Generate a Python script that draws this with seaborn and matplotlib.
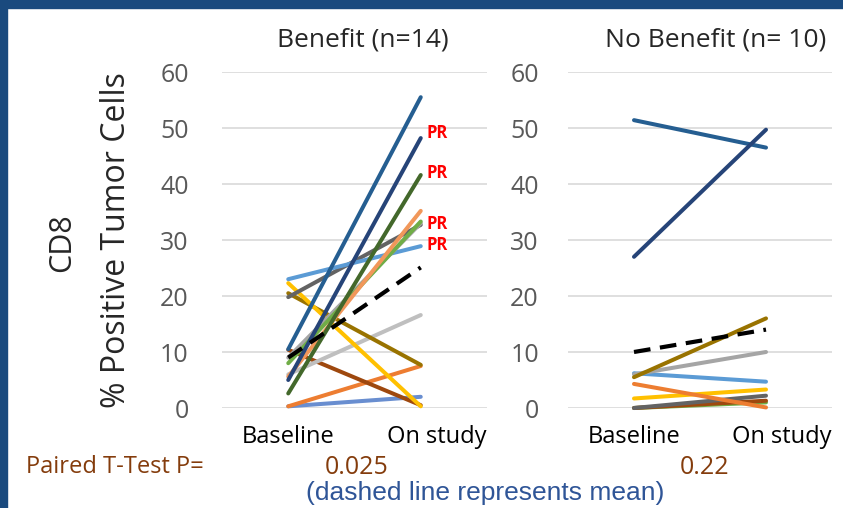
import matplotlib
matplotlib.use("Agg")
import matplotlib.pyplot as plt
import matplotlib.transforms as mtransforms
from matplotlib import font_manager
import seaborn as sns
import pandas as pd

# ---------------- data ----------------
timepoints = ["Baseline", "On study"]

benefit_colors = ["#698ED0", "#ED7D31", "#9E480E", "#BFBFBF", "#997300", "#FFC000",
                  "#636363", "#5B9BD5", "#A5A5A5", "#70AD47", "#F1975A", "#43682B",
                  "#264478", "#255E91"]
benefit_baseline = [0.3, 0.3, 10.4, 6.0, 20.5, 22.3, 19.8, 23.0, 9.0, 8.0, 5.6, 2.6, 5.0, 10.5]
benefit_onstudy = [2.0, 7.5, 0.5, 16.6, 7.7, 0.3, 32.7, 28.9, 33.0, 33.3, 35.2, 41.6, 48.2, 55.5]
benefit_mean = [9.0, 25.1]

nobenefit_colors = ["#70AD47", "#9E480E", "#636363", "#FFC000", "#ED7D31", "#5B9BD5",
                    "#A5A5A5", "#997300", "#255E91", "#264478"]
nobenefit_baseline = [0.0, 0.0, 0.0, 1.7, 4.3, 6.2, 6.0, 5.5, 51.4, 27.0]
nobenefit_onstudy = [1.0, 1.3, 2.2, 3.3, 0.1, 4.7, 10.0, 16.0, 46.5, 49.7]
nobenefit_mean = [10.0, 14.0]

pr_values = [49.1, 42.0, 32.9, 29.1]
yticks = [0, 10, 20, 30, 40, 50, 60]
titles = ["Benefit (n=14)", "No Benefit (n= 10)"]
pvalues = ["0.025", "0.22"]

# ---------------- fonts ----------------
sns.set_theme(style="white")
avail = {f.name for f in font_manager.fontManager.ttflist}
def pick(*names):
    for n in names:
        if n in avail:
            return n
    return "DejaVu Sans"
NARROW = pick("Liberation Sans Narrow", "Open Sans", "Lato", "DejaVu Sans")
ARIAL = pick("Liberation Sans", "DejaVu Sans")
plt.rcParams["font.family"] = [NARROW, "DejaVu Sans"]

fig = plt.figure(figsize=(8.43, 5.08), dpi=100)
W, H = 843, 508

def make_axes(x0, x1, y_top=72, y_bot=408):
    return fig.add_axes([x0 / W, (H - y_bot) / H, (x1 - x0) / W, (y_bot - y_top) / H])

ax1 = make_axes(222, 487)
ax2 = make_axes(568, 832)

def draw_panel(ax, base, onst, colors, mean, tick_right_pad):
    rows = []
    for i, (b, o) in enumerate(zip(base, onst)):
        rows.append({"pid": i, "t": 0, "v": b})
        rows.append({"pid": i, "t": 1, "v": o})
    df = pd.DataFrame(rows)
    sns.lineplot(data=df, x="t", y="v", hue="pid", palette=colors, legend=False,
                 linewidth=2.9, ax=ax, solid_capstyle="round", clip_on=False,
                 estimator=None, sort=False)
    mdf = pd.DataFrame({"t": [0, 1], "v": mean})
    sns.lineplot(data=mdf, x="t", y="v", color="black", linewidth=3.0, ax=ax,
                 dashes=False, clip_on=False, estimator=None)
    ax.lines[-1].set_linestyle((0, (4.0, 2.3)))
    ax.set_xlim(-0.5, 1.5)
    ax.set_ylim(0, 60)
    ax.set_yticks(yticks)
    ax.set_yticklabels([str(v) for v in yticks], fontsize=18, color="#595959")
    ax.tick_params(axis="y", length=0, pad=tick_right_pad)
    ax.set_xticks([0, 1])
    ax.set_xticklabels(timepoints, fontsize=17, color="black")
    ax.tick_params(axis="x", length=0, pad=12)
    lab = ax.get_xticklabels()[1]
    lab.set_transform(lab.get_transform() + mtransforms.ScaledTranslation(16 / 100, 0, fig.dpi_scale_trans))
    ax.grid(axis="y", color="#D9D9D9", linewidth=1.2)
    ax.set_axisbelow(True)
    for s in ax.spines.values():
        s.set_visible(False)
    ax.set_xlabel("")
    ax.set_ylabel("")

draw_panel(ax1, benefit_baseline, benefit_onstudy, benefit_colors, benefit_mean, 24)
draw_panel(ax2, nobenefit_baseline, nobenefit_onstudy, nobenefit_colors, nobenefit_mean, 21)

for v in pr_values:
    ax1.text(1.04, v, "PR", color="#FF0000", fontsize=12, fontweight="bold",
             ha="left", va="center", clip_on=False)

# panel titles
fig.text(363 / W, 1 - 40 / H, titles[0], ha="center", va="center", fontsize=19)
fig.text(716 / W, 1 - 40 / H, titles[1], ha="center", va="center", fontsize=19)

# y-axis labels
fig.text(62 / W, 1 - 243 / H, "CD8", rotation=90, ha="center", va="center", fontsize=22)
fig.text(117 / W, 1 - 240 / H, "% Positive Tumor Cells", rotation=90, ha="center", va="center", fontsize=23)

# bottom texts
brown = "#843C0C"
fig.text(26 / W, 1 - 467 / H, "Paired T-Test P=", ha="left", va="center", fontsize=17, color=brown)
fig.text(357 / W, 1 - 467 / H, pvalues[0], ha="center", va="center", fontsize=18, color=brown)
fig.text(705 / W, 1 - 467 / H, pvalues[1], ha="center", va="center", fontsize=18, color=brown)
fig.text(485 / W, 1 - 493 / H, "(dashed line represents mean)", ha="center", va="center",
         fontsize=19, color="#2F5597", family=[ARIAL, "DejaVu Sans"])

# blue frame bars
blue = "#1A4A7E"
fig.add_artist(plt.Rectangle((0, 1 - 8 / H), 1, 8 / H, transform=fig.transFigure, color=blue, zorder=10))
fig.add_artist(plt.Rectangle((0, 0), 7 / W, 1, transform=fig.transFigure, color=blue, zorder=10))

fig.savefig("out.png", dpi=100)
